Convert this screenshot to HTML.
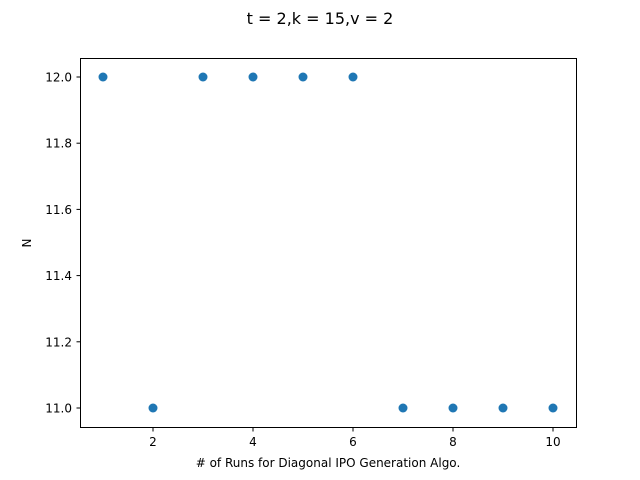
<!DOCTYPE html>
<html><head><meta charset="utf-8"><style>body{margin:0;background:#fff}svg{display:block;font-family:"DejaVu Sans","Liberation Sans",sans-serif}</style></head>
<body>
<svg id="chart" width="640" height="480">
<rect x="0" y="0" width="640" height="480" fill="#fff"/>
<text x="320" y="24" text-anchor="middle" font-size="16">t = 2,k = 15,v = 2</text>
<rect x="80.5" y="58.5" width="496" height="369" fill="none" stroke="#000" stroke-width="1"/>
<g id="xticks"></g><g id="yticks"></g><g id="points"></g>
<text x="328" y="467" text-anchor="middle" font-size="12"># of Runs for Diagonal IPO Generation Algo.</text>
<text x="31" y="243" text-anchor="middle" font-size="12" transform="rotate(-90 31 243)">N</text>
</svg>
<script>
const runs=[1,2,3,4,5,6,7,8,9,10];
const nValues=[12,11,12,12,12,12,11,11,11,11];
const xTickLabels=[2,4,6,8,10];
const yTickLabels=[11.0,11.2,11.4,11.6,11.8,12.0];
const NS="http://www.w3.org/2000/svg";
function xs(v){return 103+(v-1)*50;}
function ys(v){return 408-(v-11)*331;}
const xt=document.getElementById('xticks'),yt=document.getElementById('yticks'),pg=document.getElementById('points');
xTickLabels.forEach(v=>{
 const l=document.createElementNS(NS,'line');
 l.setAttribute('x1',xs(v));l.setAttribute('x2',xs(v));l.setAttribute('y1',427.5);l.setAttribute('y2',431.5);l.setAttribute('stroke','#000');
 
 
 xt.appendChild(l);
 const t=document.createElementNS(NS,'text');
 t.setAttribute('x',xs(v));t.setAttribute('y',446);t.setAttribute('text-anchor','middle');t.setAttribute('font-size','12');t.textContent=v;
 
 
 xt.appendChild(t);
});
yTickLabels.forEach(v=>{
 const l=document.createElementNS(NS,'line');
 l.setAttribute('x1',76.5);l.setAttribute('x2',80.5);l.setAttribute('y1',ys(v));l.setAttribute('y2',ys(v));l.setAttribute('stroke','#000');
 
 
 yt.appendChild(l);
 const t=document.createElementNS(NS,'text');
 t.setAttribute('x',72);t.setAttribute('y',ys(v)+4.5);t.setAttribute('text-anchor','end');t.setAttribute('font-size','12');t.textContent=v.toFixed(1);
 
 
 yt.appendChild(t);
});
runs.forEach((r,i)=>{
 const c=document.createElementNS(NS,'circle');
 c.setAttribute('cx',xs(r));c.setAttribute('cy',ys(nValues[i]));c.setAttribute('r',4.5);c.setAttribute('fill','#1f77b4');
 
 
 pg.appendChild(c);
});
</script>
</body></html>
